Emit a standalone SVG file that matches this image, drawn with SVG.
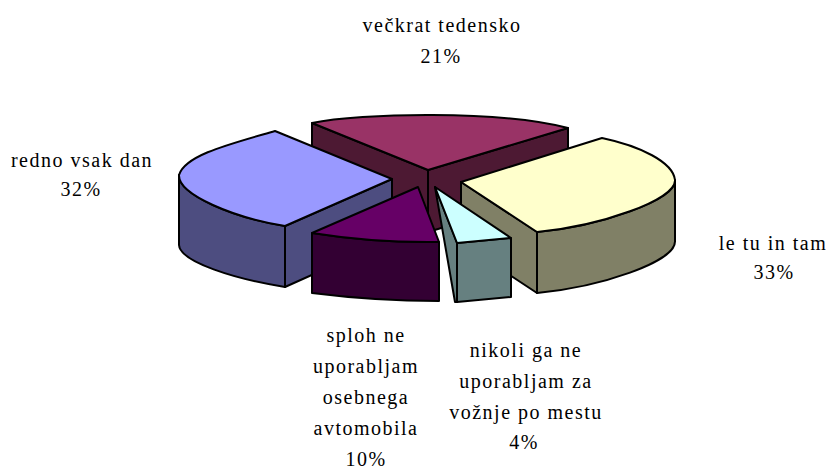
<svg xmlns="http://www.w3.org/2000/svg" width="827" height="469" viewBox="0 0 827 469">
<style>
  .e { stroke: #000; stroke-width: 2; stroke-linejoin: round; }
  .lbl { font-size: 20px; letter-spacing: 1.5px; fill: #000; text-anchor: middle; }
</style>
<rect width="827" height="469" fill="#fff"/>
<g id="slice-veckrat">
  <path class="e" fill="#4d1933" d="M312,123 L428,170 L428,232 L312,185 Z"/>
  <path class="e" fill="#4d1933" d="M428,170 L568,128 L568,190 L428,232 Z"/>
  <path class="e" fill="#993366" d="M312,123 C360,113 500,110 568,128 L428,170 Z"/>
</g>
<g id="slice-redno">
  <path class="e" fill="#4d4d80" d="M179,175 C178,195 235,218 285,226 L285,287 C235,279 180,262 179,245 Z"/>
  <path class="e" fill="#4d4d80" d="M285,226 L392,179 L392,239 L285,287 Z"/>
  <path class="e" fill="#9999ff" d="M392,179 L275,131 C230,144 185,155 179,175 C178,195 235,218 285,226 Z"/>
</g>
<g id="slice-letuintam">
  <path class="e" fill="#808066" d="M461,182 L537,232 L537,293 L461,243 Z"/>
  <path class="e" fill="#808066" d="M675,180 C676,200 600,226 537,232 L537,293 C600,287 676,262 675,241 Z"/>
  <path class="e" fill="#ffffcc" d="M461,182 L602,138 C640,146 673,162 675,180 C676,200 600,226 537,232 Z"/>
</g>
<g id="slice-sploh">
  <path class="e" fill="#330033" d="M312,233 Q375,243 439,242 L439,301 Q375,301 312,293 Z"/>
  <path class="e" fill="#660066" d="M418,187 L312,233 Q375,243 439,242 Z"/>
</g>
<g id="slice-nikoli">
  <path class="e" fill="#668080" d="M435,187 L457,243 L457,302 L455,302 Z"/>
  <path class="e" fill="#668080" d="M457,243 L511,238 L511,297 L457,302 Z"/>
  <path class="e" fill="#ccffff" d="M435,187 L457,243 L511,238 Z"/>
</g>
<g id="labels" class="lbl" font-family="Liberation Serif, Times New Roman, serif">
<g id="label-veckrat">
  <text x="442" y="32">večkrat tedensko</text>
  <text x="441" y="63">21%</text>
</g>
<g id="label-redno">
  <text x="82" y="167">redno vsak dan</text>
  <text x="81" y="196">32%</text>
</g>
<g id="label-letuintam">
  <text x="773" y="250">le tu in tam</text>
  <text x="774" y="279">33%</text>
</g>
<g id="label-sploh">
  <text x="366" y="342">sploh ne</text>
  <text x="366" y="373">uporabljam</text>
  <text x="366" y="404">osebnega</text>
  <text x="366" y="435">avtomobila</text>
  <text x="366" y="466">10%</text>
</g>
<g id="label-nikoli">
  <text x="526" y="357">nikoli ga ne</text>
  <text x="526" y="388">uporabljam za</text>
  <text x="526" y="419">vožnje po mestu</text>
  <text x="524" y="449">4%</text>
</g>
</g>
</svg>
